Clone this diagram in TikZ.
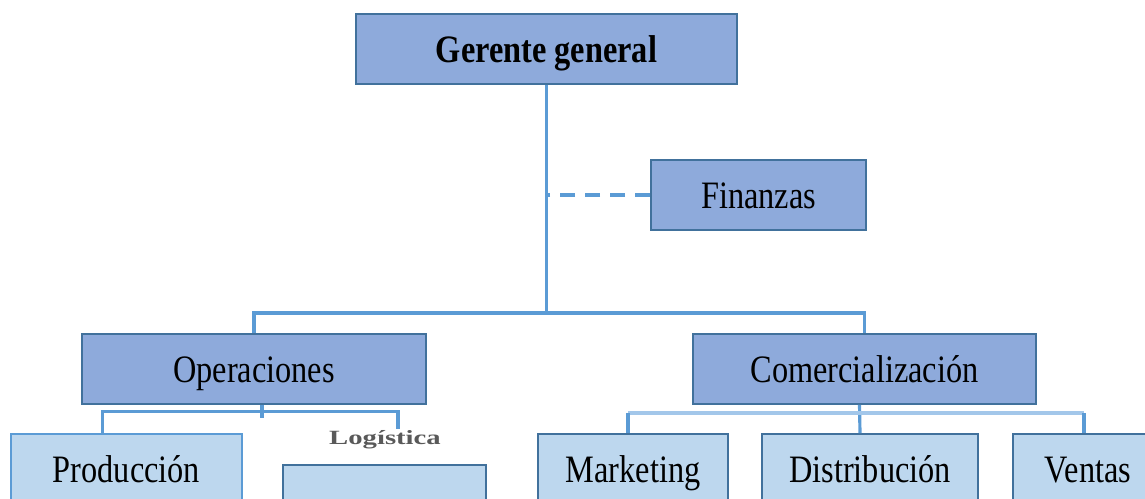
\documentclass[tikz,border=0pt]{standalone}
\usepackage{fontspec}
\setmainfont{Liberation Serif}
\usepackage{tikz}
\usetikzlibrary{positioning,calc}
\definecolor{boxdark}{HTML}{8EAADB}
\definecolor{boxlight}{HTML}{BDD7EE}
\definecolor{boxline}{HTML}{41719C}
\definecolor{linkblue}{HTML}{5B9BD5}
\definecolor{linklight}{HTML}{A3C7EA}
\newcommand{\tallname}[1]{\scalebox{1}[1.2]{#1}}

\begin{document}
\begin{tikzpicture}[font=\fontsize{18.4}{22}\selectfont,
  unit/.style={draw=boxline,line width=1.1pt,minimum height=1.4cm,inner sep=2pt,
               text height=15.2pt,text depth=0pt},
  mainunit/.style={unit,fill=boxdark},
  subunit/.style={unit,fill=boxlight},
  link/.style={draw=linkblue,line width=2.2pt},
  sublink/.style={draw=linkblue,line width=1.8pt}]
  \useasboundingbox (0,0) rectangle (22.9,-9.96);
  \clip (0,0) rectangle (22.9,-9.96);

  % top level
  \node[mainunit,minimum width=7.62cm] (gerente) at (10.93,-0.98) {\tallname{\textbf{Gerente general}}};
  \node[mainunit,minimum width=4.3cm] (finanzas) at (15.17,-3.9) {\tallname{Finanzas}};

  % areas
  \node[mainunit,minimum width=6.88cm] (operaciones) at (5.08,-7.38) {\tallname{Operaciones}};
  \node[mainunit,minimum width=6.86cm] (comercial) at (17.29,-7.38) {\tallname{Comercialización}};

  % departments
  \node[subunit,draw=linkblue,minimum width=4.62cm] (produccion) at (2.53,-9.38) {\tallname{Producción}};
  \node[subunit,minimum width=4.06cm] (logbox) at (7.69,-10.0) {};
  \node[font=\fontsize{11.5}{13}\selectfont\bfseries,text=black!65,inner sep=1pt]
    (loglabel) at (7.7,-8.8) {\scalebox{1.42}[1]{Logística}};
  \node[subunit,minimum width=3.8cm] (marketing) at (12.66,-9.38) {\tallname{Marketing}};
  \node[subunit,minimum width=4.32cm] (distribucion) at (17.4,-9.38) {\tallname{Distribución}};
  \node[subunit,minimum width=3cm] (ventas) at (21.76,-9.38) {\tallname{Ventas}};

  \coordinate (bus1) at (0,-6.26);
  \coordinate (bus2) at (0,-8.23);
  \coordinate (bus3) at (0,-8.26);

  % connectors
  \draw[link] (gerente.south) -- (gerente.south |- bus1);
  \draw[link,line width=2pt,dash pattern=on 0.3cm off 0.2cm]
    (finanzas.west) -- (finanzas.west -| gerente.south);
  \draw[link] (operaciones.north) -- (operaciones.north |- bus1)
    -- (comercial.north |- bus1) -- (comercial.north);

  \draw[sublink] ([xshift=0.16cm]operaciones.south) -- ([xshift=0.16cm,yshift=-0.12cm]operaciones.south |- bus2);
  \draw[sublink] ([xshift=-0.48cm]produccion.north) -- ([xshift=-0.48cm]produccion.north |- bus2)
    -- ([xshift=0.26cm]loglabel.north |- bus2) -- ([xshift=0.26cm]loglabel.north);

  \draw[sublink] ([xshift=-0.1cm]comercial.south) -- ([xshift=-0.2cm]distribucion.north);
  \draw[sublink,draw=linklight] ([xshift=-0.1cm]marketing.north |- bus3) -- ([xshift=-0.08cm]ventas.north |- bus3);
  \draw[sublink] ([xshift=-0.1cm]marketing.north) -- ([xshift=-0.1cm]marketing.north |- bus3);
  \draw[sublink] ([xshift=-0.08cm]ventas.north) -- ([xshift=-0.08cm]ventas.north |- bus3);
\end{tikzpicture}
\end{document}
